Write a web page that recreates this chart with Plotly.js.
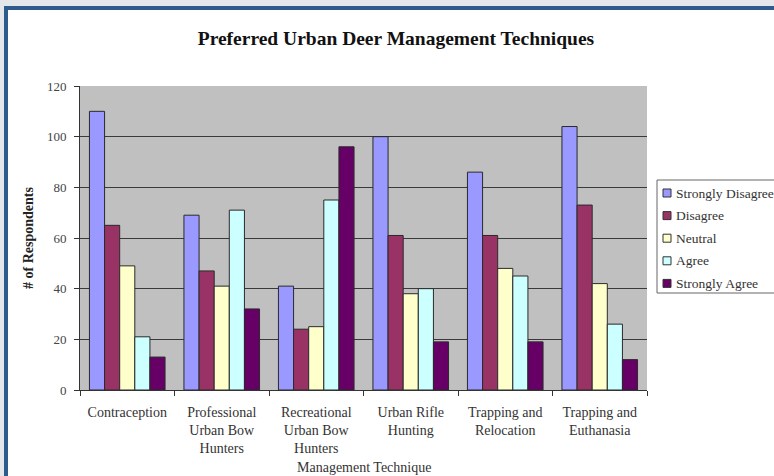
<!DOCTYPE html>
<html><head><meta charset="utf-8">
<script src="https://cdn.plot.ly/plotly-3.0.1.min.js"></script>
<style>html,body{margin:0;padding:0;background:#e4e6ea;} #chart{width:774px;height:476px;}</style>
</head><body><div id="chart"></div>
<script>
const categories = [
  "Contraception",
  "Professional<br>Urban Bow<br>Hunters",
  "Recreational<br>Urban Bow<br>Hunters",
  "Urban Rifle<br>Hunting",
  "Trapping and<br>Relocation",
  "Trapping and<br>Euthanasia"
];
const seriesNames = ["Strongly Disagree", "Disagree", "Neutral", "Agree", "Strongly Agree"];
const stronglyDisagree = [110, 69, 41, 100, 86, 104];
const disagree = [65, 47, 24, 61, 61, 73];
const neutral = [49, 41, 25, 38, 48, 42];
const agree = [21, 71, 75, 40, 45, 26];
const stronglyAgree = [13, 32, 96, 19, 19, 12];
const yTickVals = [0, 20, 40, 60, 80, 100, 120];
const seriesColors = ["#9999ff", "#993366", "#ffffcc", "#ccffff", "#660066"];

const seriesValues = [stronglyDisagree, disagree, neutral, agree, stronglyAgree];
const gridVals = yTickVals.filter(v => v > 0 && v < 120);
const serif = "'Liberation Serif', 'Times New Roman', serif";

// layout geometry (pixels) and pixel -> paper conversion
const W = 774, H = 476;
const M = { l: 80, r: 127, t: 86, b: 86 };
const plotW = W - M.l - M.r, plotH = H - M.t - M.b;
const px = v => (v - M.l) / plotW;
const py = v => (H - M.b - v) / plotH;

const traces = seriesValues.map((vals, i) => ({
  type: "bar",
  name: seriesNames[i],
  x: categories,
  y: vals,
  marker: { color: seriesColors[i], line: { color: "#2a2a2a", width: 1 } },
  hoverinfo: "x+y+name",
  showlegend: false
}));

// legend drawn as box + swatches + text (compact spacing like the reference)
const legendLeft = 657, legendTop = 180, legendBottom = 293, firstRow = 193, rowGap = 22.6;
const legendShapes = [{
  type: "rect", xref: "paper", yref: "paper",
  x0: px(legendLeft), x1: px(W + 20), y0: py(legendBottom), y1: py(legendTop),
  fillcolor: "#ffffff", line: { color: "#666", width: 1 }
}];
const legendAnnotations = [];
seriesNames.forEach((name, i) => {
  const cy = firstRow + i * rowGap;
  legendShapes.push({
    type: "rect", xref: "paper", yref: "paper",
    x0: px(663), x1: px(671), y0: py(cy + 4), y1: py(cy - 4),
    fillcolor: seriesColors[i], line: { color: "#333", width: 1 }
  });
  legendAnnotations.push({
    text: name, xref: "paper", yref: "paper", x: px(674), y: py(cy),
    xanchor: "left", yanchor: "middle", showarrow: false,
    font: { family: serif, size: 13.5, color: "#333" }
  });
});

const layout = {
  width: W, height: H,
  paper_bgcolor: "#e4e6ea",
  plot_bgcolor: "rgba(0,0,0,0)",
  margin: { l: M.l, r: M.r, t: M.t, b: M.b, autoexpand: false },
  barmode: "group",
  bargap: 0.2,
  bargroupgap: 0,
  showlegend: false,
  title: {
    text: "<b>Preferred Urban Deer Management Techniques</b>",
    font: { family: serif, size: 19.5, color: "#111" },
    xref: "container", yref: "container",
    x: 0.5116, y: 0.92, xanchor: "center", yanchor: "middle"
  },
  xaxis: {
    type: "category",
    showline: true, linecolor: "#333", linewidth: 1,
    ticks: "outside", tickson: "boundaries", ticklen: 5, tickcolor: "#333",
    ticklabelstandoff: 9,
    tickfont: { family: serif, size: 14, color: "#333" },
    showgrid: false
  },
  yaxis: {
    range: [0, 120],
    tickvals: yTickVals,
    showline: true, linecolor: "#333", linewidth: 1,
    ticks: "outside", ticklen: 5, tickcolor: "#333",
    ticklabelstandoff: 5,
    tickfont: { family: serif, size: 13, color: "#444" },
    showgrid: false,
    minor: { tickvals: gridVals, showgrid: true, gridcolor: "#3a3a3a", gridwidth: 1, ticks: "" },
    zeroline: false,
    title: { text: "<b># of Respondents</b>", font: { family: serif, size: 14, color: "#222" }, standoff: 10 }
  },
  annotations: [{
    text: "Management Technique",
    xref: "paper", yref: "paper", x: 0.5, y: py(467),
    xanchor: "center", yanchor: "middle", showarrow: false,
    font: { family: serif, size: 14, color: "#333" }
  }].concat(legendAnnotations),
  shapes: [
    { type: "rect", xref: "paper", yref: "paper", x0: px(6), x1: px(W + 10), y0: py(H + 10), y1: py(8),
      fillcolor: "#ffffff", line: { color: "#2f5a8c", width: 4 }, layer: "below" },
    { type: "rect", xref: "paper", yref: "paper", x0: 0, x1: 1, y0: 0, y1: 1,
      fillcolor: "#c0c0c0", line: { width: 0 }, layer: "below" }
  ].concat(legendShapes)
};

Plotly.newPlot("chart", traces, layout, { displayModeBar: false, staticPlot: true });
</script>
</body></html>
